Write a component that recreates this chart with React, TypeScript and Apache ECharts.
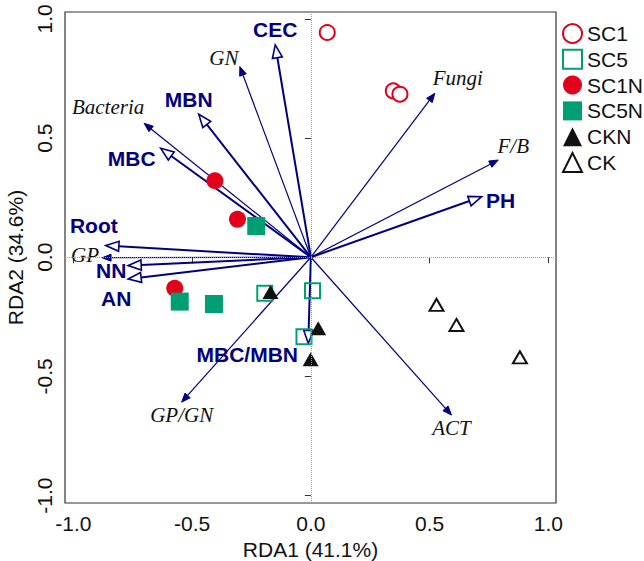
import React, { useEffect, useRef } from "react";
import * as echarts from "echarts";

// ---- data ----
const tickValues = [-1, -0.5, 0, 0.5, 1];

const vectorNames = ["CEC", "GN", "MBN", "Bacteria", "MBC", "Root", "GP", "NN", "AN", "MBC/MBN", "GP/GN", "ACT", "Fungi", "F/B", "PH"];
const vectorX = [-0.150, -0.299, -0.472, -0.702, -0.632, -0.863, -0.879, -0.769, -0.769, -0.011, -0.544, 0.592, 0.522, 0.789, 0.719];
const vectorY = [0.891, 0.800, 0.600, 0.562, 0.457, 0.049, -0.002, -0.035, -0.091, -0.361, -0.608, -0.662, 0.688, 0.408, 0.254];
// env = environmental factor (bold, open head); sp = community index (italic, filled head)
const vectorKind = ["env", "sp", "env", "sp", "env", "env", "sp", "env", "env", "env", "sp", "sp", "sp", "sp", "env"];
// label offsets from arrow tip, in pixels
const labelDX = [0, -16, -10, -36, -29, -12, -17, -17, -12, -61, 0, 0, 23, 15, 19];
const labelDY = [-15, -9, -15, -16, 10, -20, -3, 5, 20, 11, 13, 13, -15, -14, 4];

const sc1X = [0.069, 0.347, 0.375];
const sc1Y = [0.943, 0.698, 0.684];
const sc5X = [-0.194, 0.007, -0.029];
const sc5Y = [-0.151, -0.141, -0.333];
const sc1nX = [-0.404, -0.309, -0.573];
const sc1nY = [0.321, 0.159, -0.130];
const sc5nX = [-0.230, -0.552, -0.408];
const sc5nY = [0.131, -0.186, -0.196];
const cknX = [-0.170, 0.031, -0.001];
const cknY = [-0.146, -0.298, -0.428];
const ckX = [0.529, 0.613, 0.880];
const ckY = [-0.200, -0.284, -0.420];

const NAVY = "#000080";
const RED = "#e2001a";
const GREEN = "#009e73";
const SANS = "Liberation Sans, Arial, sans-serif";
const SERIF = "Liberation Serif, Times New Roman, serif";

const zip = (xs: number[], ys: number[]) => xs.map((x, i) => [x, ys[i]]);

export default function App() {
  const ref = useRef<HTMLDivElement>(null);
  useEffect(() => {
    if (!ref.current) return;
    const chart = echarts.init(ref.current, undefined, { renderer: "svg" });

    const axisCommon = {
      type: "value" as const,
      axisLine: { show: false },
      splitLine: { show: false },
      axisTick: { show: true, customValues: tickValues, length: 6, lineStyle: { color: "#333", width: 1 } },
    };

    const option: any = {
      animation: false,
      backgroundColor: "#fff",
      grid: {
        left: 65, top: 12, width: 491, height: 491,
        outerBoundsMode: "none", containLabel: false,
        show: true, borderColor: "#333", borderWidth: 1.2, backgroundColor: "transparent",
      },
      xAxis: {
        ...axisCommon,
        min: -1.035,
        max: 1.032,
        name: "RDA1 (41.1%)",
        nameLocation: "middle",
        nameGap: 35,
        nameTextStyle: { fontSize: 21, fontFamily: SANS, color: "#111" },
        axisLabel: { customValues: tickValues, formatter: (v: number) => v.toFixed(1), fontSize: 21, fontFamily: SANS, color: "#111", margin: 10 },
      },
      yAxis: {
        ...axisCommon,
        min: -1.031,
        max: 1.029,
        name: "RDA2 (34.6%)",
        nameLocation: "middle",
        nameGap: 37,
        nameTextStyle: { fontSize: 21, fontFamily: SANS, color: "#111" },
        axisLabel: { customValues: tickValues, formatter: (v: number) => v.toFixed(1), fontSize: 21, fontFamily: SANS, color: "#111", margin: 10, rotate: 90 },
      },
      legend: {
        orient: "vertical",
        left: 562,
        top: 23,
        padding: 0,
        itemWidth: 19,
        itemHeight: 19,
        itemGap: 4.8,
        textStyle: { fontSize: 21, fontFamily: SANS, color: "#111" },
        data: ["SC1", "SC5", "SC1N", "SC5N", "CKN", "CK"],
      },
      series: [
        {
          type: "custom",
          name: "vectors",
          clip: false,
          z: 2,
          data: vectorX.map((x, i) => [x, vectorY[i]]),
          encode: { x: 0, y: 1 },
          renderItem: (params: any, api: any) => {
            const i = params.dataIndex;
            const o = api.coord([0, 0]);
            const t = api.coord([api.value(0), api.value(1)]);
            const env = vectorKind[i] === "env";
            const dx = t[0] - o[0];
            const dy = t[1] - o[1];
            const len = Math.hypot(dx, dy);
            const ux = dx / len;
            const uy = dy / len;
            const hl = env ? 13 : 9;
            const hw = env ? 5 : 3.5;
            const bx = t[0] - ux * hl;
            const by = t[1] - uy * hl;
            const px = -uy;
            const py = ux;
            return {
              type: "group",
              children: [
                {
                  type: "line",
                  shape: { x1: o[0], y1: o[1], x2: bx, y2: by },
                  style: { stroke: NAVY, lineWidth: env ? 2 : 1.2 },
                },
                {
                  type: "polygon",
                  shape: { points: [[t[0], t[1]], [bx + px * hw, by + py * hw], [bx - px * hw, by - py * hw]] },
                  style: { fill: env ? "#fff" : NAVY, stroke: NAVY, lineWidth: env ? 1.6 : 1 },
                },
                {
                  type: "text",
                  x: t[0] + labelDX[i],
                  y: t[1] + labelDY[i],
                  style: {
                    text: vectorNames[i],
                    align: "center",
                    verticalAlign: "middle",
                    fill: env ? NAVY : "#111",
                    fontSize: 21,
                    fontWeight: env ? "bold" : "normal",
                    fontStyle: env ? "normal" : "italic",
                    fontFamily: env ? SANS : SERIF,
                  },
                },
              ],
            };
          },
          markLine: {
            silent: true,
            symbol: "none",
            label: { show: false },
            lineStyle: { color: "#999", type: "dotted", width: 1 },
            data: [{ xAxis: 0 }, { yAxis: 0 }],
          },
        },
        {
          type: "scatter", name: "SC1", z: 3, symbol: "circle", symbolSize: 15,
          itemStyle: { color: "#fff", borderColor: RED, borderWidth: 2, opacity: 1 }, data: zip(sc1X, sc1Y),
        },
        {
          type: "scatter", name: "SC5", z: 3, symbol: "rect", symbolSize: 15,
          itemStyle: { color: "transparent", borderColor: GREEN, borderWidth: 2, opacity: 1 }, data: zip(sc5X, sc5Y),
        },
        {
          type: "scatter", name: "SC1N", z: 3, symbol: "circle", symbolSize: 17,
          itemStyle: { color: RED, opacity: 1 }, data: zip(sc1nX, sc1nY),
        },
        {
          type: "scatter", name: "SC5N", z: 3, symbol: "rect", symbolSize: 18,
          itemStyle: { color: GREEN, opacity: 1 }, data: zip(sc5nX, sc5nY),
        },
        {
          type: "scatter", name: "CKN", z: 4, symbol: "triangle", symbolSize: [16, 14],
          itemStyle: { color: "#111", opacity: 1 }, data: zip(cknX, cknY),
        },
        {
          type: "scatter", name: "CK", z: 3, symbol: "triangle", symbolSize: [14, 12],
          itemStyle: { color: "#fff", borderColor: "#111", borderWidth: 2, opacity: 1 }, data: zip(ckX, ckY),
        },
      ],
    };
    chart.setOption(option);
    return () => chart.dispose();
  }, []);
  return <div ref={ref} style={{ position: "fixed", left: 0, top: 0, width: 644, height: 561 }} />;
}
